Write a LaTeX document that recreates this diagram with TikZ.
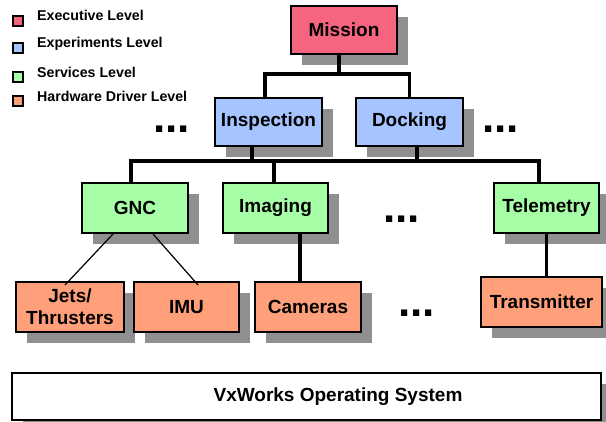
\documentclass[tikz,border=0pt]{standalone}
\usepackage{fontspec}
\setmainfont{Liberation Sans}
\usetikzlibrary{shadows,calc}
\definecolor{execc}{RGB}{245,101,128}
\definecolor{expc}{RGB}{166,196,255}
\definecolor{svcc}{RGB}{166,255,166}
\definecolor{hwc}{RGB}{255,160,122}
\definecolor{shadowc}{RGB}{143,143,143}
\tikzset{
  box/.style={draw=black, line width=2pt, inner sep=0pt, align=center,
    font=\fontsize{19}{22}\selectfont\bfseries,
    drop shadow={shadow xshift=11pt, shadow yshift=-11pt, fill=shadowc, opacity=1}},
  execbox/.style={box, fill=execc},
  expbox/.style={box, fill=expc},
  svcbox/.style={box, fill=svcc},
  hwbox/.style={box, fill=hwc},
  legsq/.style={draw=black, line width=1.5pt, minimum width=10pt, minimum height=10pt, inner sep=0pt},
  legtxt/.style={anchor=base west, inner sep=0pt, font=\fontsize{14.2}{16}\selectfont\bfseries},
  tree/.style={line width=3.5pt},
  thin/.style={line width=1.2pt},
  dots/.style={anchor=base west, inner sep=0pt, text height=6pt, text depth=0pt, font=\fontsize{44}{44}\selectfont\bfseries},
}
\begin{document}
\begin{tikzpicture}[x=1pt,y=-1pt]
\useasboundingbox (0,0) rectangle (606,422);
% legend
\node[legsq, fill=execc] (l1) at (18,21) {};
\node[legsq, fill=expc] (l2) at (18,48) {};
\node[legsq, fill=svcc] (l3) at (18,77) {};
\node[legsq, fill=hwc] (l4) at (18,101) {};
\node[legtxt] (t1) at (37,21) {Executive Level};
\node[legtxt] (t2) at (37,48) {Experiments Level};
\node[legtxt] (t3) at (37,78) {Services Level};
\node[legtxt] (t4) at (37,102) {Hardware Driver Level};
% boxes
\node[execbox, minimum width=106pt, minimum height=48pt] (mission) at (344,30) {Mission};
\node[expbox, minimum width=107pt, minimum height=48pt] (insp) at (268.5,122) {Inspection};
\node[expbox, minimum width=107pt, minimum height=48pt] (dock) at (409.5,122) {Docking};
\node[svcbox, minimum width=106pt, minimum height=50pt] (gnc) at (135,208) {GNC};
\node[svcbox, minimum width=105pt, minimum height=50pt] (imag) at (275.5,208) {Imaging};
\node[svcbox, minimum width=105pt, minimum height=50pt] (tele) at (546.5,208) {Telemetry};
\node[hwbox, minimum width=108pt, minimum height=50pt] (jets) at (70,307) {Jets/\\Thrusters};
\node[hwbox, minimum width=105pt, minimum height=50pt] (imu) at (186.5,307) {IMU};
\node[hwbox, minimum width=106pt, minimum height=50pt] (cam) at (308,307) {Cameras};
\node[hwbox, minimum width=121pt, minimum height=50pt] (trans) at (541.5,302) {Transmitter};
\node[box, fill=white, minimum width=589pt, minimum height=47pt] (os) at (306.5,396.5) {\raisebox{3pt}{\hspace*{63pt}VxWorks Operating System}};
% connectors level 1
\draw[tree] ([xshift=-5pt]mission.south) -- ++(0,19) coordinate (j1);
\draw[tree] ([xshift=-3.5pt]insp.north) |- (j1) -| (dock.north);
% connectors level 2
\draw[tree] ([xshift=-16.5pt]insp.south) -- ++(0,14) coordinate (j2);
\draw[tree] ([xshift=7.5pt]dock.south) |- (j2);
\draw[tree] ([xshift=-4pt]gnc.north) |- (j2) -| ([xshift=-7.5pt]tele.north);
\draw[tree] ([xshift=-1.5pt]imag.north) |- (j2);
% connectors level 3
\draw[thin] ([xshift=-22pt]gnc.south) -- ([xshift=-5pt,yshift=-4pt]jets.north);
\draw[thin] ([xshift=18pt]gnc.south) -- ([xshift=11.5pt,yshift=-4pt]imu.north);
\coordinate (cx) at ([xshift=-8pt]cam.north);
\draw[tree] (cx) -- (cx |- imag.south);
\draw[tree] (tele.south) -- (tele.south |- trans.north);
% dots
\node[dots] (d1) at (153,133) {...};
\node[dots] (d2) at (482,133) {...};
\node[dots] (d3) at (383,223) {...};
\node[dots] (d4) at (398,317) {...};
\end{tikzpicture}
\end{document}
